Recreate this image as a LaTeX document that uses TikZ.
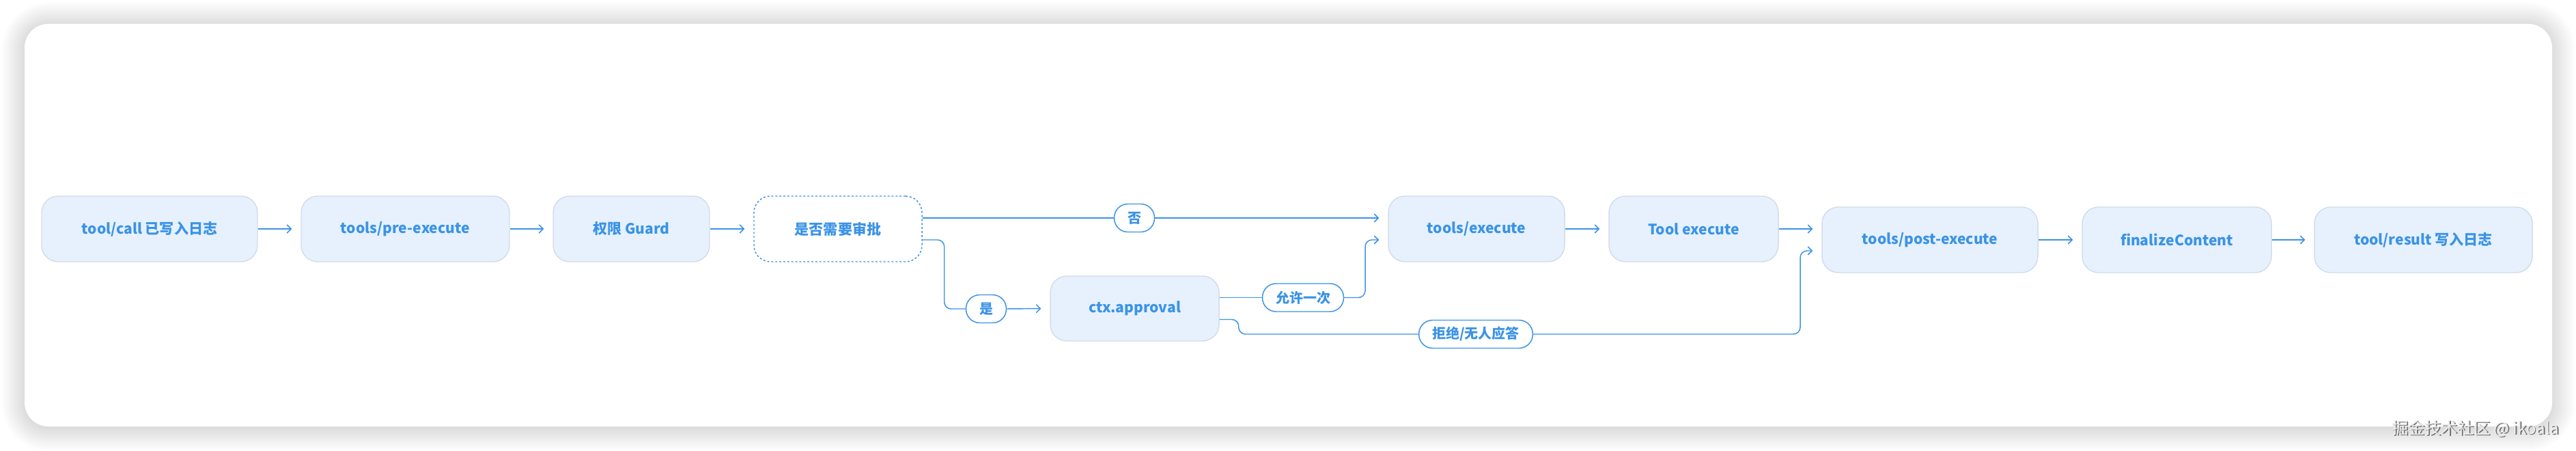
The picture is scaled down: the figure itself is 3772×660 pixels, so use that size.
\documentclass[tikz,border=0pt]{standalone}
\usepackage{fontspec}
\setmainfont{Noto Sans CJK SC}
\usetikzlibrary{arrows.meta,calc}
\definecolor{nodefill}{HTML}{E6F1FD}
\definecolor{nodeedge}{HTML}{D3DDE9}
\definecolor{accent}{HTML}{3B93E6}
\definecolor{wmdark}{HTML}{6E6E6E}
\definecolor{wmlight}{HTML}{EDEDED}
\tikzset{
  stepbox/.style={draw=nodeedge, line width=1.1pt, fill=nodefill, rounded corners=18pt,
    minimum height=72pt, inner sep=0pt, text=accent,
    font=\fontsize{15.8}{18}\selectfont\bfseries},
  decisionbox/.style={stepbox, draw=accent, fill=white, dash pattern=on 2.2pt off 2.2pt},
  pill/.style={draw=accent, line width=1.1pt, fill=white, rounded corners=15pt,
    minimum height=30.75pt, minimum width=42.75pt, inner xsep=14.6pt, inner ysep=0pt,
    text=accent, font=\fontsize{15}{17}\selectfont\bfseries},
  flow/.style={draw=accent, line width=1.1pt, rounded corners=7.5pt},
  arr/.style={flow, -{Straight Barb[length=4.5pt,width=9pt,line width=1.1pt]}},
}
\begin{document}
\begin{tikzpicture}[x=0.75pt,y=-0.75pt]
\useasboundingbox (0,0) rectangle (3772,660);
\fill[white] (0,0) rectangle (3772,660);
% card shadow
\foreach \i in {1,...,34}{
  \pgfmathsetmacro\rr{(35+\i)*0.75}
  \fill[black, opacity=0.0045, rounded corners=\rr pt] (36-\i,35-\i+2) rectangle (3737+\i,624+\i+2);
}
\fill[white, rounded corners=26pt] (36,35) rectangle (3737,624);

% steps
\node[stepbox, minimum width=237pt]    (n1)  at (219,335)    {tool/call 已写入日志};
\node[stepbox, minimum width=228.75pt] (n2)  at (593.5,335)  {tools/pre-execute};
\node[stepbox, minimum width=171.75pt] (n3)  at (924.5,335)  {权限 Guard};
\node[decisionbox, minimum width=184.5pt] (n4) at (1227,335) {是否需要审批};
\node[stepbox, minimum width=193.5pt]  (ex)  at (2162,335)   {tools/execute};
\node[stepbox, minimum width=186pt]    (te)  at (2480,335)   {Tool execute};
\node[stepbox, minimum width=237pt]    (pe)  at (2826,351)   {tools/post-execute};
\node[stepbox, minimum width=207.75pt] (fc)  at (3187.5,351) {finalizeContent};
\node[stepbox, minimum width=239.25pt] (tr)  at (3548.5,351) {tool/result 写入日志};
\node[stepbox, minimum width=185.25pt, minimum height=71.25pt] (ca) at (1661.5,451.5) {ctx.approval};

% labels
\node[pill] (lno)  at (1661,319)   {否};
\node[pill] (lyes) at (1444,452)   {是};
\node[pill] (lok)  at (1908,435.5) {允许一次};
\node[pill] (lrej) at (2161,489)   {拒绝/无人应答};

% straight chain
\draw[arr] (n1.east) -- ($(n2.west)+(-13,0)$);
\draw[arr] (n2.east) -- ($(n3.west)+(-13,0)$);
\draw[arr] (n3.east) -- ($(n4.west)+(-13,0)$);
\draw[arr] (ex.east) -- ($(te.west)+(-13,0)$);
\draw[arr] (te.east) -- ($(te.east -| pe.west)+(-13,0)$);
\draw[arr] (pe.east) -- ($(fc.west)+(-13,0)$);
\draw[arr] (fc.east) -- ($(tr.west)+(-13,0)$);

% decision: no
\draw[flow] ($(n4.east)+(0,-16)$) -- (lno.west);
\draw[arr] (lno.east) -- ($(ex.west)+(-13,-16)$);
% decision: yes
\draw[flow] ($(n4.east)+(0,16)$) -- ++(32,0) |- (lyes.west);
\draw[arr] (lyes.east) -- ($(ca.west)+(-13,0)$);
% approval: allow once
\draw[flow] ($(ca.east)+(0,-16)$) -- (lok.west);
\draw[arr] (lok.east) -- (1999,435.5) |- ($(ex.west)+(-13,16)$);
% approval: reject / no answer
\draw[flow] ($(ca.east)+(0,16)$) -- ++(28,0) |- (lrej.west);
\draw[arr] (lrej.east) -- (2636,489) |- ($(pe.west)+(-13,16)$);

% watermark
\node[anchor=east, text=wmdark, font=\fontsize{18}{20}\selectfont] (wm0) at (3753.5,628.5) {掘金技术社区 @ ikoala};
\node[anchor=east, text=wmlight, font=\fontsize{18}{20}\selectfont] (wm) at (3752,627) {掘金技术社区 @ ikoala};
\end{tikzpicture}
\end{document}
